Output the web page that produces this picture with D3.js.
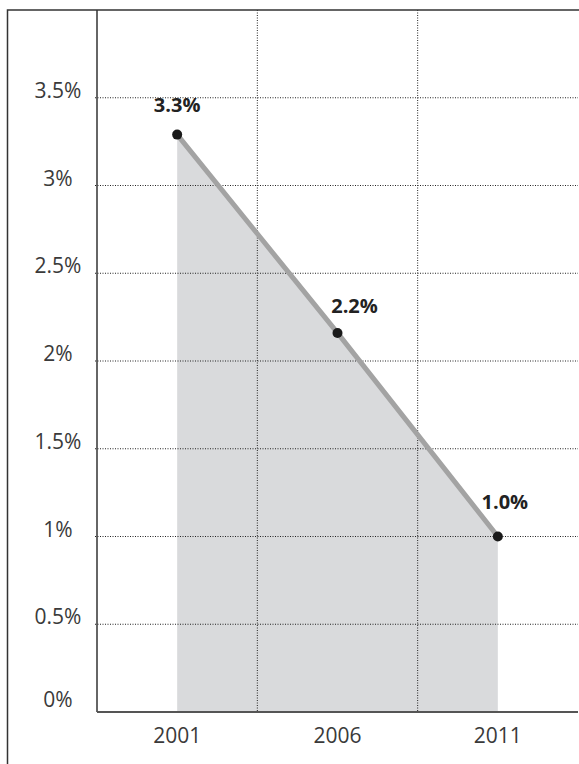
<!DOCTYPE html>
<html lang="en">
<head>
<meta charset="UTF-8">
<title>Share by year</title>
<style>
  body { margin: 0; background: #fff; }
  svg { display: block; font-family: "Open Sans", sans-serif; }
  .tick-label { fill: #3a3a3a; font-size: 21px; }
  .value-label { fill: #222; font-size: 20px; font-weight: bold; }
</style>
</head>
<body>
<script src="https://cdnjs.cloudflare.com/ajax/libs/d3/7.8.5/d3.min.js"></script>
<script>
const years = ["2001", "2006", "2011"];
const values = [3.29, 2.16, 1.0];
const valueLabels = ["3.3%", "2.2%", "1.0%"];
const yTicks = [0, 0.5, 1, 1.5, 2, 2.5, 3, 3.5];
const yTickLabels = ["0%", "0.5%", "1%", "1.5%", "2%", "2.5%", "3%", "3.5%"];

const width = 579, height = 764;
const plotLeft = 97, plotRight = 578, plotTop = 10, plotBottom = 712;

const svg = d3.select("body").append("svg")
  .attr("width", width).attr("height", height);

const x = d3.scaleBand().domain(years).range([plotLeft, plotRight]);
const y = d3.scaleLinear().domain([0, 4]).range([plotBottom, plotTop]);
const cx = d => x(d) + x.bandwidth() / 2;

// area under the line
const pts = years.map((yr, i) => ({ yr, v: values[i], label: valueLabels[i] }));
svg.append("path")
  .datum(pts)
  .attr("fill", "#d9dadc")
  .attr("d", d3.area().x(d => cx(d.yr)).y0(y(0)).y1(d => y(d.v)));

// horizontal gridlines
svg.selectAll(".hgrid").data(yTicks.filter(t => t > 0)).enter()
  .append("line")
  .attr("x1", plotLeft - 2).attr("x2", plotRight)
  .attr("y1", d => y(d)).attr("y2", d => y(d))
  .attr("stroke", "#222").attr("stroke-width", 1)
  .attr("stroke-dasharray", "1,1.5");

// vertical gridlines at band edges
svg.selectAll(".vgrid").data(years.slice(1)).enter()
  .append("line")
  .attr("x1", d => x(d)).attr("x2", d => x(d))
  .attr("y1", plotTop).attr("y2", plotBottom)
  .attr("stroke", "#222").attr("stroke-width", 1)
  .attr("stroke-dasharray", "1,1.5");

// outer frame (left and top)
svg.append("path")
  .attr("d", `M7.5,${height} V${plotTop} H${width}`)
  .attr("fill", "none").attr("stroke", "#333").attr("stroke-width", 1.5);

// axes
svg.append("line")
  .attr("x1", plotLeft).attr("x2", plotLeft).attr("y1", plotTop).attr("y2", plotBottom)
  .attr("stroke", "#333").attr("stroke-width", 1.5);
svg.append("line")
  .attr("x1", plotLeft).attr("x2", plotRight).attr("y1", plotBottom).attr("y2", plotBottom)
  .attr("stroke", "#555").attr("stroke-width", 2);

// y tick labels
svg.selectAll(".ylab").data(yTicks).enter()
  .append("text").attr("class", "tick-label")
  .attr("x", 58).attr("y", d => Math.min(y(d), plotBottom - 5))
  .attr("text-anchor", "middle")
  .text((d, i) => yTickLabels[i]);

// x tick labels
svg.selectAll(".xlab").data(years).enter()
  .append("text").attr("class", "tick-label")
  .attr("x", d => cx(d)).attr("y", plotBottom + 31)
  .attr("text-anchor", "middle")
  .text(d => d);

// line
svg.append("path")
  .datum(pts)
  .attr("fill", "none").attr("stroke", "#a3a3a3").attr("stroke-width", 5)
  .attr("d", d3.line().x(d => cx(d.yr)).y(d => y(d.v)));

// points
svg.selectAll(".pt").data(pts).enter()
  .append("circle")
  .attr("cx", d => cx(d.yr)).attr("cy", d => y(d.v)).attr("r", 5)
  .attr("fill", "#1a1a1a");

// value labels, nudged off the line
const labelDx = [0, 17, 7];
const labelDy = [-23, -20, -28];
svg.selectAll(".vlab").data(pts).enter()
  .append("text").attr("class", "value-label")
  .attr("x", (d, i) => cx(d.yr) + labelDx[i])
  .attr("y", (d, i) => y(d.v) + labelDy[i])
  .attr("text-anchor", "middle")
  .text(d => d.label);
</script>
</body>
</html>
